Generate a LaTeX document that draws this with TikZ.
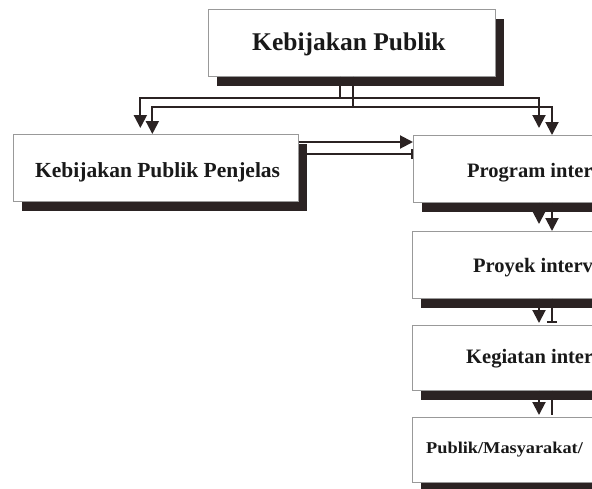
\documentclass[tikz,border=0pt]{standalone}
\usepackage{graphicx}
\usepackage{fontspec}
\setmainfont{Liberation Serif}
\usetikzlibrary{arrows.meta, shadows}
\definecolor{shadowc}{HTML}{2B2323}
\newcommand{\widen}[2]{\scalebox{#1}[1]{#2}}

\begin{document}
\begin{tikzpicture}[x=1pt, y=-1pt,
    box/.style={draw=gray!80, line width=0.7pt, fill=white, anchor=north west, inner sep=0pt,
      minimum height=67pt, drop shadow={shadow xshift=9pt, shadow yshift=-10pt, fill=shadowc, opacity=1}},
    lbl/.style={anchor=base west, inner sep=0pt, text=black!90, font=\bfseries\fontsize{20.5}{24}\selectfont},
    conn/.style={line width=2pt, draw=shadowc},
    tip/.style={-{Triangle[width=13pt, length=13pt]}},
    tipb/.style={-{Bar[width=10pt, line width=2pt]}}]
    \useasboundingbox (0,0) rectangle (592,488);
    \clip (0,0) rectangle (592,488);
    \node [box, minimum width=287pt] (top) at (208,9) {};
    \node [lbl, font=\bfseries\fontsize{25.5}{29}\selectfont] (toptxt) at (252,50) {Kebijakan Publik};
    \node [box, minimum width=285pt] (penj) at (13,134) {};
    \node [lbl, font=\bfseries\fontsize{21.5}{25}\selectfont] (penjtxt) at (35,177) {Kebijakan Publik Penjelas};
    \node [box, minimum width=300pt] (prog) at (413,135) {};
    \node [lbl] (progtxt) at (467,177) {Program inter};
    \node [box, minimum width=300pt] (proy) at (412,231) {};
    \node [lbl] (proytxt) at (473,272) {Proyek interv};
    \node [box, minimum width=300pt, minimum height=65pt] (keg) at (412,325) {};
    \node [lbl] (kegtxt) at (466,363) {Kegiatan inter};
    \node [box, minimum width=300pt, minimum height=65pt] (pub) at (412,417) {};
    \node [lbl, font=\bfseries\fontsize{16.5}{20}\selectfont] (pubtxt) at (426,453) {\widen{1.11}{Publik/Masyarakat/}};
    \draw [conn, tip] ([xshift=-11.5pt]top.south) |- ([xshift=-15.5pt, yshift=36pt]penj.north) -- ([xshift=-15.5pt, yshift=6pt]penj.north);
    \draw [conn, tip] ([xshift=-11.5pt]top.south) |- ([xshift=126pt, yshift=37pt]prog.north west) -- ([xshift=126pt, yshift=7pt]prog.north west);
    \draw [conn, tip] ([xshift=1.5pt]top.south) |- ([xshift=-3.5pt, yshift=27pt]penj.north) -- ([xshift=-3.5pt]penj.north);
    \draw [conn, tip] ([xshift=1.5pt]top.south) |- ([xshift=139pt, yshift=28pt]prog.north west) -- ([xshift=139pt]prog.north west);
    \coordinate (h1) at ([yshift=-8pt]penj.north east);
    \coordinate (h2) at ([yshift=-20pt]penj.north east);
    \draw [conn, tip] (h1) -- (h1 -| prog.west);
    \draw [conn, tipb] (h2) -- (h2 -| prog.west);
    \draw [conn, tip] ([xshift=126pt]prog.south west) -- ([xshift=127pt, yshift=7pt]proy.north west);
    \draw [conn, tip] ([xshift=139pt]prog.south west) -- ([xshift=140pt]proy.north west);
    \draw [conn, tip] ([xshift=127pt]proy.south west) -- ([xshift=127pt, yshift=2pt]keg.north west);
    \draw [conn, tipb] ([xshift=140pt]proy.south west) -- ([xshift=140pt, yshift=2pt]keg.north west);
    \draw [conn, tip] ([xshift=127pt]keg.south west) -- ([xshift=127pt, yshift=2pt]pub.north west);
    \draw [conn] ([xshift=140pt]keg.south west) -- ([xshift=140pt, yshift=2pt]pub.north west);
\end{tikzpicture}
\end{document}
